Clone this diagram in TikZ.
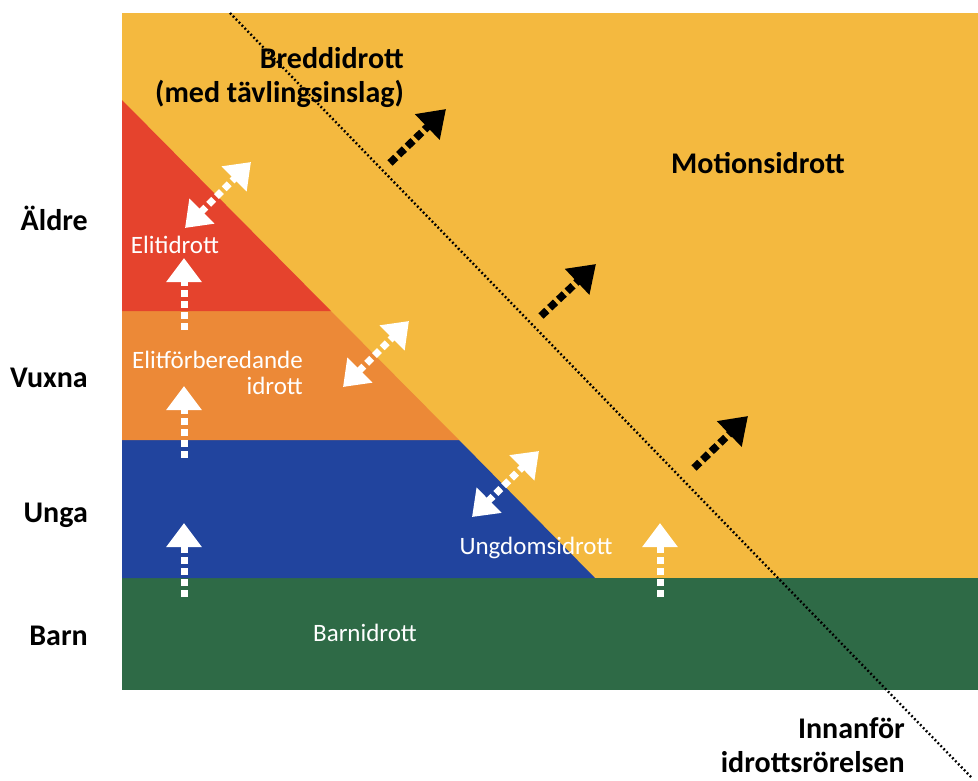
\documentclass[tikz,border=0pt]{standalone}
\usepackage{fontspec}
\setmainfont{Carlito}
\usetikzlibrary{arrows.meta}
\definecolor{motiongul}{RGB}{244,185,63}
\definecolor{elitrod}{RGB}{229,67,45}
\definecolor{elitorange}{RGB}{236,137,55}
\definecolor{ungdomsbla}{RGB}{33,68,158}
\definecolor{barngron}{RGB}{46,106,70}

\begin{document}
\begin{tikzpicture}[x=1pt,y=-1pt,
    whitearr/.style={white,line width=7pt,dash pattern=on 7pt off 4pt,
      -{Triangle[width=34pt,length=24pt]}},
    whitedbl/.style={white,line width=7pt,dash pattern=on 7pt off 4pt,
      {Triangle[width=34pt,length=24pt]}-{Triangle[width=34pt,length=24pt]}},
    blackarr/.style={black,line width=7.5pt,dash pattern=on 8pt off 4pt,
      -{Triangle[width=34pt,length=26pt]}},
    agelabel/.style={inner sep=0pt,font=\fontsize{30}{34}\selectfont\bfseries},
    bandlabel/.style={inner sep=0pt,text=white,font=\fontsize{25}{26}\selectfont}]
        \newcommand{\figidrottleft}{122}
        \newcommand{\figidrottright}{978}
        \newcommand{\figidrotttop}{13}
        \newcommand{\figidrottbottom}{690}
        \newcommand{\figidrottgreen}{578}
        \newcommand{\figidrottblue}{440}
        \newcommand{\figidrottorange}{311}
        \newcommand{\figidrottred}{100}
        \useasboundingbox (0,0) rectangle (978,780);
        \fill[motiongul] (\figidrottleft,\figidrotttop) rectangle (\figidrottright,\figidrottbottom);
        \fill[barngron] (\figidrottleft,\figidrottgreen) rectangle (\figidrottright,\figidrottbottom);
        \fill[ungdomsbla] (\figidrottleft,\figidrottblue) -- (459,\figidrottblue) -- (595,\figidrottgreen) -- (\figidrottleft,\figidrottgreen) -- cycle;
        \fill[elitorange] (\figidrottleft,\figidrottorange) -- (331,\figidrottorange) -- (459,\figidrottblue) -- (\figidrottleft,\figidrottblue) -- cycle;
        \fill[elitrod] (\figidrottleft,\figidrottred) -- (331,\figidrottorange) -- (\figidrottleft,\figidrottorange) -- cycle;
        \node[bandlabel] (elit) at (175,245) {Elitidrott};
        \node[bandlabel,align=right,anchor=east] (elitforb) at (303,373) {Elitförberedande\\idrott};
        \node[bandlabel] (ungdom) at (536,548) {Ungdomsidrott};
        \node[bandlabel] (barn) at (365,633) {Barnidrott};
        \node[agelabel,align=right,anchor=east] (bredd) at (404,78) {Breddidrott\\(med tävlingsinslag)};
        \node[agelabel] (motion) at (758,163) {Motionsidrott};
        \node[agelabel,anchor=east] (aldre) at (88,218) {Äldre};
        \node[agelabel,anchor=east] (vuxna) at (88,378) {Vuxna};
        \node[agelabel,anchor=east] (unga) at (88,515) {Unga};
        \node[agelabel,anchor=east] (barnage) at (88,636) {Barn};
        \node[agelabel,align=right,anchor=east] (innanfor) at (905,745) {Innanför\\idrottsrörelsen};
        \coordinate (gransstart) at (230,\figidrotttop);
        \coordinate (gransslut) at (972,778);
        \draw[line width=2.4pt,dash pattern=on 1.8pt off 2.4pt] (gransstart) -- (gransslut);
        \coordinate (wa) at (185,228); \coordinate (wb) at (251,162);
        \coordinate (wc) at (343,387); \coordinate (wd) at (409,321);
        \coordinate (we) at (472,517); \coordinate (wf) at (539,451);
        \draw[whitedbl] (wa) -- (wb);
        \draw[whitedbl] (wc) -- (wd);
        \draw[whitedbl] (we) -- (wf);
        \coordinate (ua) at (184,330); \coordinate (ub) at (184,258);
        \coordinate (uc) at (184,458); \coordinate (ud) at (184,386);
        \coordinate (ue) at (184,597); \coordinate (uf) at (184,523);
        \coordinate (ug) at (660,597); \coordinate (uh) at (660,523);
        \draw[whitearr] (ua) -- (ub);
        \draw[whitearr] (uc) -- (ud);
        \draw[whitearr] (ue) -- (uf);
        \draw[whitearr] (ug) -- (uh);
        \coordinate (ba) at (390,163); \coordinate (bb) at (446,109);
        \coordinate (bc) at (541,316); \coordinate (bd) at (596,264);
        \coordinate (be) at (694,468); \coordinate (bf) at (748,416);
        \draw[blackarr] (ba) -- (bb);
        \draw[blackarr] (bc) -- (bd);
        \draw[blackarr] (be) -- (bf);
\end{tikzpicture}
\end{document}
